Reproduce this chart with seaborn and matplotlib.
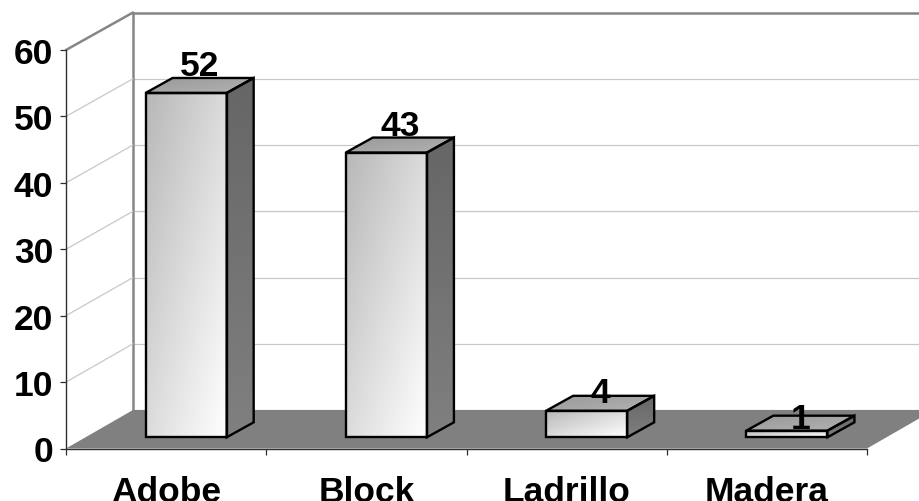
import numpy as np
import matplotlib
matplotlib.use("Agg")
import matplotlib.pyplot as plt
from matplotlib.patches import Polygon
import seaborn as sns

materiales = ["Adobe", "Block", "Ladrillo", "Madera"]
valores = [52, 43, 4, 1]
ticks_y = [0, 10, 20, 30, 40, 50, 60]
# how far above the front top edge each number sits (px)
alzado = [18, 18, 8.5, 2.5]

W, H = 920, 502
sns.set_theme(style="white")
plt.rcParams["font.family"] = ["Liberation Sans", "DejaVu Sans"]
FS = 25.5


def caja(x0, x1, y_bot, y_top):
    # axes rectangle from pixel values measured from the top of the image
    return [x0 / W, (H - y_bot) / H, (x1 - x0) / W, (y_bot - y_top) / H]


def capa(z):
    a = fig.add_axes([0, 0, 1, 1], zorder=z)
    a.set_xlim(0, W)
    a.set_ylim(H, 0)
    a.axis("off")
    a.patch.set_alpha(0)
    return a


def a_px(ax, x, y):
    px, py = ax.transData.transform((x, y))
    return px, H - py


def cara(ax, pts, c0, c1, ang):
    # polygon with a linear grey gradient and a black outline
    pts = np.array(pts)
    x0, y0 = pts.min(axis=0)
    x1, y1 = pts.max(axis=0)
    u, v = np.meshgrid(np.linspace(0, 1, 64), np.linspace(0, 1, 64))
    t = (u * np.cos(ang) + v * np.sin(ang)) / (np.cos(ang) + np.sin(ang))
    img = c0 + (c1 - c0) * t
    im = ax.imshow(img, extent=(x0, x1, y1, y0), cmap="gray", vmin=0, vmax=1,
                   aspect="auto", zorder=2, interpolation="bilinear")
    poly = Polygon(pts, closed=True, fc="none", ec="black", lw=1.7, zorder=3,
                   joinstyle="miter")
    ax.add_patch(poly)
    im.set_clip_path(poly)


fig = plt.figure(figsize=(W / 100, H / 100), dpi=100, facecolor="white")

# back wall
ax_pared = fig.add_axes(caja(133, 934, 411, 13.5), zorder=1)
ax_pared.set_ylim(0, 60)
ax_pared.set_xlim(0, 1)
ax_pared.set_yticks(ticks_y)
ax_pared.set_xticks([])
ax_pared.tick_params(left=False, labelleft=False)
ax_pared.grid(axis="y", color="#c8c8c8", lw=0.9)
for s in ["right", "bottom"]:
    ax_pared.spines[s].set_visible(False)
for s in ["left", "top"]:
    ax_pared.spines[s].set_color("#868686")
    ax_pared.spines[s].set_linewidth(1.8)

# front axis
ax = fig.add_axes(caja(66, 867, 449.5, 51), zorder=3)
ax.patch.set_alpha(0)
ax.set_xlim(0, 4)
ax.set_ylim(0, 60)
ax.set_xticks(range(5))
ax.set_xticks([0.5, 1.5, 2.5, 3.5], minor=True)
ax.set_xticklabels([])
ax.set_xticklabels(materiales, minor=True, fontsize=FS, fontweight="bold", color="black")
ax.set_yticks(ticks_y)
ax.set_yticklabels(ticks_y, fontsize=FS, fontweight="bold", color="black")
ax.tick_params(axis="x", which="major", bottom=True, length=4.5, width=0.9, color="#303030")
ax.tick_params(axis="x", which="minor", bottom=False, pad=15)
ax.tick_params(axis="y", left=True, length=4.5, width=0.9, color="#303030", pad=4.5)
for s in ["right", "top"]:
    ax.spines[s].set_visible(False)
for s in ["left", "bottom"]:
    ax.spines[s].set_color("#303030")
    ax.spines[s].set_linewidth(1.0)

# bars, moved into the depth of the floor
ax_barras = fig.add_axes(caja(86, 887, 438.3, 41), zorder=4)
ax_barras.patch.set_alpha(0)
sns.barplot(x=materiales, y=valores, color="#c0c0c0", width=0.405, saturation=1,
            ax=ax_barras)
ax_barras.set_xlim(-0.5, 3.5)
ax_barras.set_ylim(0, 60)
ax_barras.axis("off")

# floor and the diagonal grid lines on the left wall
fondo = capa(2)
xa, ya = a_px(ax, 0, 0)
xb, yb = a_px(ax, 4, 0)
xp, yp = a_px(ax_pared, 0, 0)
dx, dy = xp - xa, yp - ya
fondo.add_patch(Polygon([(xa, ya), (xp, yp), (xb + dx, yp), (xb, yb)], closed=True,
                        fc="#808080", ec="none"))
for t in ticks_y[1:]:
    x1, y1 = a_px(ax, 0, t)
    x2, y2 = a_px(ax_pared, 0, t)
    es_tope = t == ticks_y[-1]
    fondo.plot([x1, x2], [y1, y2], color="#868686" if es_tope else "#c8c8c8",
               lw=1.8 if es_tope else 0.9, solid_capstyle="round")

# 3d faces built from the bars seaborn drew
capa_3d = capa(5)
PROF_X, PROF_Y = 27, -15
for barra, v, lift in zip(ax_barras.patches, valores, alzado):
    x0, y0 = a_px(ax_barras, barra.get_x(), barra.get_y())
    x1, y1 = a_px(ax_barras, barra.get_x() + barra.get_width(), barra.get_height())
    frente = [(x0, y0), (x0, y1), (x1, y1), (x1, y0)]
    lado = [(x1, y0), (x1, y1), (x1 + PROF_X, y1 + PROF_Y), (x1 + PROF_X, y0 + PROF_Y)]
    tapa = [(x0, y1), (x0 + PROF_X, y1 + PROF_Y), (x1 + PROF_X, y1 + PROF_Y), (x1, y1)]
    cara(capa_3d, frente, 0.72, 1.0, np.pi / 4)
    cara(capa_3d, lado, 0.40, 0.50, np.pi / 2)
    cara(capa_3d, tapa, 0.60, 0.70, np.pi / 4)
    capa_3d.text((x0 + x1) / 2 + PROF_X / 2, y1 - lift, str(v), ha="center", va="baseline",
                 fontsize=FS, fontweight="bold", color="black", zorder=5)

capa_3d.set_xlim(0, W)
capa_3d.set_ylim(H, 0)

fig.savefig("out.png", dpi=100)
